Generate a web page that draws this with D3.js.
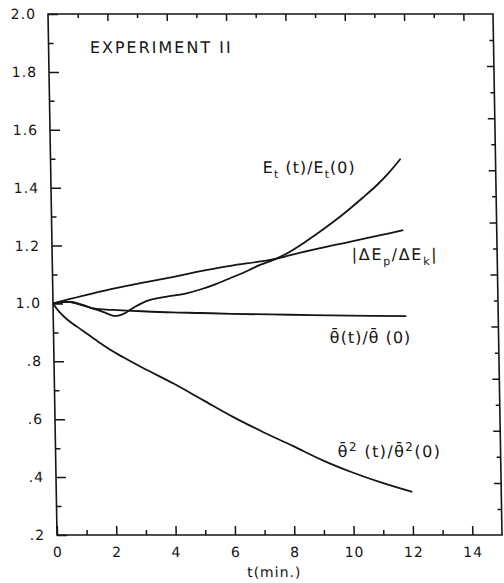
<!DOCTYPE html>
<meta charset="utf-8">
<style>
    body { margin: 0; background: #fff; }
    svg text {
        font-family: "DejaVu Sans", sans-serif;
        fill: #151515;
        letter-spacing: 1px;
    }
    .curve { fill: none; stroke: #151515; stroke-width: 1.8px; }
    .frame { fill: none; stroke: #151515; stroke-width: 1.6px; }
    .tick line { stroke: #151515; stroke-width: 1.5px; }
</style>
<svg id="chart" width="504" height="583"></svg>
<script src="https://d3js.org/d3.v7.min.js"></script>
<script>
    // values, [t (min), ratio]
    const energyTotal = [
        [0, 1.0], [0.3, 1.004], [0.6, 1.005], [1.0, 0.995], [1.3, 0.984],
        [1.7, 0.970], [2.0, 0.958], [2.2, 0.958], [2.45, 0.968], [2.75, 0.988],
        [3.2, 1.010], [3.8, 1.023], [4.5, 1.035], [5.0, 1.049], [5.5, 1.067],
        [6.0, 1.088], [6.6, 1.114], [7.0, 1.133], [7.56, 1.155], [8.0, 1.178],
        [8.5, 1.21], [9.0, 1.245], [9.5, 1.282], [10.0, 1.322], [10.5, 1.365],
        [11.0, 1.41], [11.4, 1.452], [11.8, 1.50]
    ];
    const energyRatio = [
        [0, 1.0], [1, 1.026], [2, 1.05], [3, 1.071], [4, 1.09], [5, 1.112],
        [6, 1.13], [7, 1.145], [7.56, 1.155], [8, 1.166], [9, 1.19],
        [10, 1.212], [11, 1.234], [11.85, 1.253]
    ];
    const thetaMean = [
        [0, 1.0], [0.3, 1.004], [0.6, 1.005], [1.0, 0.993], [1.4, 0.982],
        [2, 0.978], [3, 0.973], [4, 0.969], [5, 0.967], [6, 0.964],
        [8, 0.961], [10, 0.958], [11.9, 0.956]
    ];
    const thetaSquare = [
        [0, 1.0], [0.2, 0.972], [0.5, 0.942], [1, 0.905], [1.5, 0.868],
        [2, 0.834], [3, 0.777], [4, 0.724], [5, 0.666], [6, 0.608],
        [7, 0.556], [8, 0.508], [9, 0.458], [10, 0.416], [11, 0.38], [12, 0.349]
    ];

    const xMajor = [0, 2, 4, 6, 8, 10, 12, 14];
    const xMinor = [1, 3, 5, 7, 9, 11, 13];
    const yMajor = [0.2, 0.4, 0.6, 0.8, 1.0, 1.2, 1.4, 1.6, 1.8, 2.0];
    const yMinor = [0.3, 0.5, 0.7, 0.9, 1.1, 1.3, 1.5, 1.7, 1.9];
    const yLabels = [".2", ".4", ".6", ".8", "1.0", "1.2", "1.4", "1.6", "1.8", "2.0"];

    var width = 445, height = 521;

    const svg = d3.select("#chart");
    // the scanned original leans a little, so the whole plot is sheared
    const g = svg.append("g").attr("transform", "translate(48,14) skewX(0.99)");

    const x = d3.scaleLinear().domain([0, 15]).range([0, width]);
    const y = d3.scaleLinear().domain([0.2, 2.0]).range([height, 0]);
    const yRight = d3.scaleLinear().domain([0, 20]).range([height, 0]);

    function cleanAxis(sel) {
        sel.select(".domain").remove();
        sel.attr("font-size", null).attr("font-family", null);
        sel.selectAll("text").attr("font-size", 14);
    }

    // left
    g.append("g")
        .call(d3.axisLeft(y).tickValues(yMajor).tickSize(-10).tickPadding(12)
            .tickFormat((d, i) => yLabels[i]))
        .call(cleanAxis);
    g.append("g")
        .call(d3.axisLeft(y).tickValues(yMinor).tickSize(-5).tickFormat(""))
        .call(cleanAxis);

    // bottom
    g.append("g")
        .attr("transform", `translate(0,${height})`)
        .call(d3.axisBottom(x).tickValues(xMajor).tickSize(-9).tickPadding(12))
        .call(cleanAxis);
    g.append("g")
        .attr("transform", `translate(0,${height})`)
        .call(d3.axisBottom(x).tickValues(xMinor).tickSize(-5).tickFormat(""))
        .call(cleanAxis);

    // top
    g.append("g")
        .call(d3.axisTop(x).tickValues(xMajor.slice(1)).tickSize(-7).tickFormat(""))
        .call(cleanAxis);
    g.append("g")
        .call(d3.axisTop(x).tickValues(xMinor).tickSize(-4).tickFormat(""))
        .call(cleanAxis);

    // right, own spacing of 20 divisions
    g.append("g")
        .attr("transform", `translate(${width},0)`)
        .call(d3.axisRight(yRight).tickValues(d3.range(2, 20, 2)).tickSize(-7).tickFormat(""))
        .call(cleanAxis);
    g.append("g")
        .attr("transform", `translate(${width},0)`)
        .call(d3.axisRight(yRight).tickValues(d3.range(1, 20, 2)).tickSize(-4).tickFormat(""))
        .call(cleanAxis);

    g.append("rect").attr("class", "frame")
        .attr("width", width).attr("height", height);

    const line = d3.line()
        .x(d => x(d[0]))
        .y(d => y(d[1]))
        .curve(d3.curveCatmullRom.alpha(0.5));

    g.selectAll(".curve")
        .data([energyTotal, energyRatio, thetaMean, thetaSquare])
        .join("path")
        .attr("class", "curve")
        .attr("d", line);

    // labels made of pieces, sub / sup shift the baseline
    function richText(parent, px, py, parts, size) {
        const t = parent.append("text")
            .attr("x", px).attr("y", py)
            .attr("font-size", size);
        parts.forEach(p => {
            const s = t.append("tspan").text(p.t);
            if (p.sub) s.attr("dy", 5).attr("font-size", size * 0.7);
            else if (p.sup) s.attr("dy", -6).attr("font-size", size * 0.75);
            if (p.back) s.attr("dy", p.back);
        });
        return t;
    }

    richText(g, x(1.39), y(1.865), [{t: "EXPERIMENT II"}], 16)
        .style("letter-spacing", "2px");

    richText(g, x(7.15), y(1.45), [
        {t: "E"}, {t: "t", sub: true}, {t: " (t)/E", back: -5},
        {t: "t", sub: true}, {t: "(0)", back: -5}
    ], 16);

    richText(g, x(10.1), y(1.15), [
        {t: "|ΔE"}, {t: "p", sub: true}, {t: "/ΔE", back: -5},
        {t: "k", sub: true}, {t: "|", back: -5}
    ], 16).style("letter-spacing", "1.6px");

    richText(g, x(9.31), y(0.863), [{t: "θ\u0304(t)/θ\u0304 (0)"}], 16);

    richText(g, x(9.51), y(0.469), [
        {t: "θ\u0304"}, {t: "2", sup: true}, {t: " (t)/θ\u0304", back: 6},
        {t: "2", sup: true}, {t: "(0)", back: 6}
    ], 16).style("letter-spacing", "1.4px");

    g.append("text")
        .attr("x", x(7.3)).attr("y", height + 42)
        .attr("text-anchor", "middle")
        .attr("font-size", 14)
        .text("t(min.)");
</script>
